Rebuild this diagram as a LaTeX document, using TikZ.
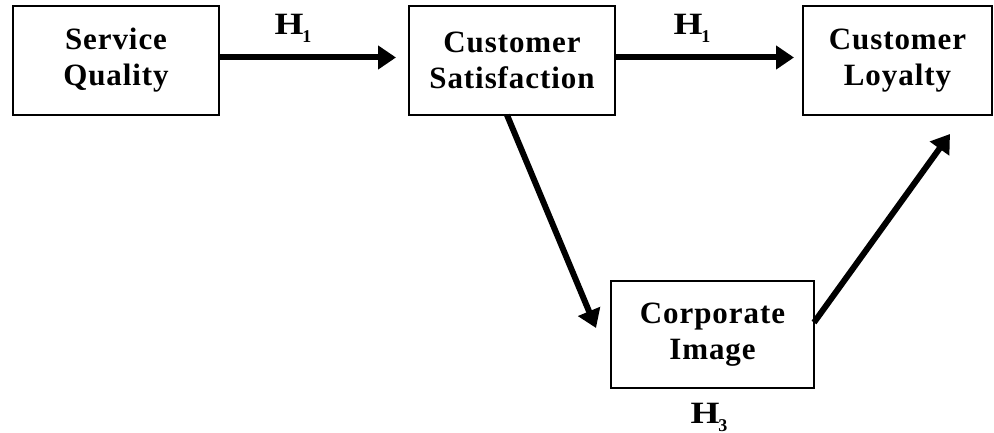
\documentclass[tikz,border=0pt]{standalone}
\usepackage{fontspec}
\setmainfont{Liberation Serif}
\usetikzlibrary{arrows.meta}
\begin{document}
\begin{tikzpicture}[x=1pt,y=-1pt,
  box/.style={draw,line width=2pt,inner sep=0pt,align=center,
    font=\fontsize{31}{36}\selectfont\bfseries\addfontfeature{LetterSpace=3}},
  arr/.style={line width=6pt,-{Triangle[length=18pt,width=23pt]}},
  hlab/.style={inner sep=0pt,font=\fontsize{31}{36}\selectfont\bfseries}]
\useasboundingbox (0,0) rectangle (994,433);
\node[box,minimum width=206pt,minimum height=109pt] (b1) at (116,60.5) {Service\\Quality};
\node[box,minimum width=206pt,minimum height=109pt] (b2) at (512,60.5) {Customer\\Satisfaction};
\node[box,minimum width=189pt,minimum height=109pt] (b3) at (897.5,60.5) {Customer\\Loyalty};
\node[box,minimum width=203pt,minimum height=107pt] (b4) at (712.5,334.5) {Corporate\\Image};
\coordinate (t1) at (596,328);
\coordinate (t2) at (950,134);
\draw[arr,shorten >=12pt] ([yshift=3pt]b1.east) -- ([yshift=3pt]b2.west);
\draw[arr,shorten >=8pt] ([yshift=3pt]b2.east) -- ([yshift=3pt]b3.west);
\draw[arr] ([xshift=-5pt,yshift=1pt]b2.south) -- (t1);
\draw[arr] ([yshift=12pt,xshift=-1pt]b4.east) -- (t2);
\node[hlab] (h1) at (293,28) {\scalebox{1.2}[1]{H}\kern-1pt\raisebox{-8pt}{\fontsize{18}{18}\selectfont 1}};
\node[hlab] (h2) at (692,28) {\scalebox{1.2}[1]{H}\kern-1pt\raisebox{-8pt}{\fontsize{18}{18}\selectfont 1}};
\node[hlab] (h3) at (709,417) {\scalebox{1.2}[1]{H}\kern-1pt\raisebox{-8pt}{\fontsize{18}{18}\selectfont 3}};
\end{tikzpicture}
\end{document}
